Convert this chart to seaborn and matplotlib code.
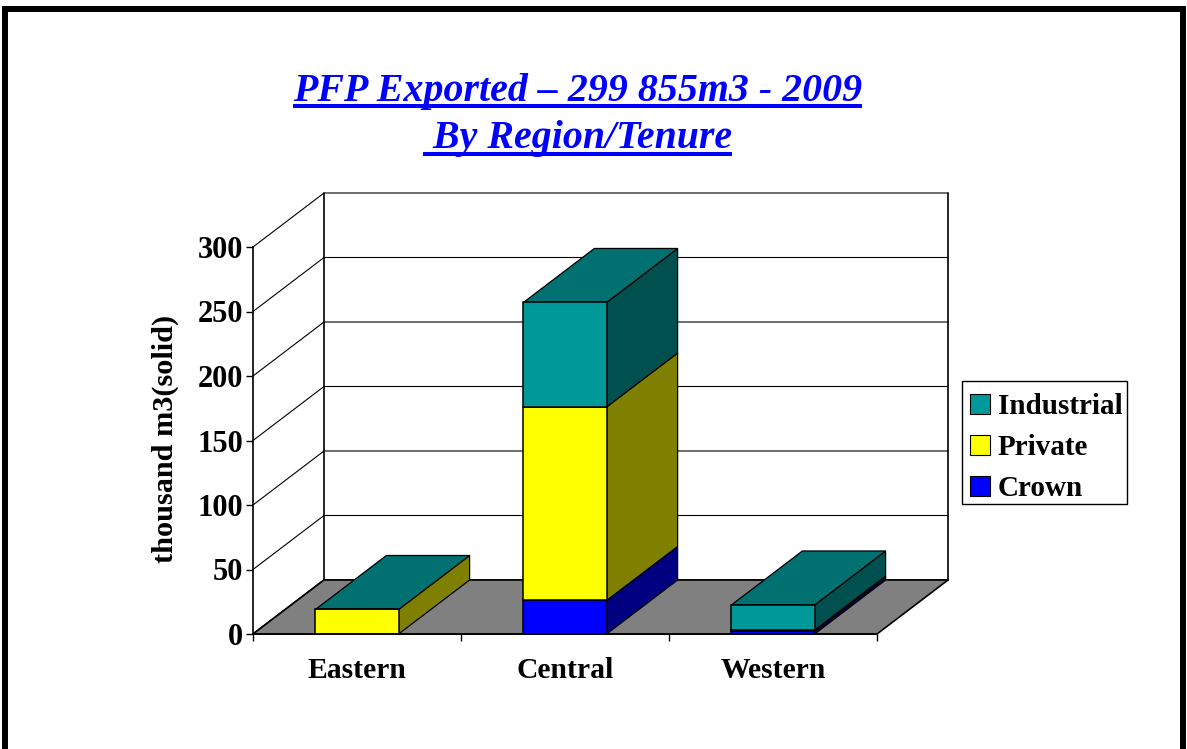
import matplotlib
matplotlib.use("Agg")
import matplotlib.pyplot as plt
import numpy as np
import seaborn as sns
from matplotlib.lines import Line2D
from matplotlib.patches import Patch, Polygon, Rectangle

regions = ["Eastern", "Central", "Western"]
crown = [0, 26, 2]
private = [19, 150, 1]
industrial = [0, 81, 19.5]
series_names = ["Crown", "Private", "Industrial"]
front_colors = ["#0000ff", "#ffff00", "#009999"]
side_colors = ["#000080", "#808000", "#005050"]
top_color = "#007070"
y_ticks = [0, 50, 100, 150, 200, 250, 300]
title_lines = ["PFP Exported \u2013 299 855m3 - 2009", " By Region/Tenure"]

W, H = 1187, 749
sns.set_theme(style="white")
plt.rcParams["font.family"] = ["Liberation Serif", "DejaVu Serif"]
fig = plt.figure(figsize=(W / 100, H / 100), dpi=100, facecolor="white")
ax = fig.add_axes([253 / W, 1 - 634 / H, 624 / W, 387 / H])
ax.patch.set_alpha(0)

# Stacked front faces, through seaborn
bottoms = np.zeros(3)
stack = [crown, private, industrial]
layers = []
for vals, fc in zip(stack, front_colors):
    sns.barplot(x=regions, y=vals, bottom=bottoms, color=fc, saturation=1,
                width=0.4, edgecolor="black", linewidth=1.1, ax=ax, zorder=5)
    layers.append((np.array(bottoms), np.array(vals, dtype=float)))
    bottoms = bottoms + np.array(vals, dtype=float)

ax.set_xlim(-0.5, 2.5)
ax.set_ylim(0, 300)
DX = 71 / 208  # depth offset in category units
DY = 54 / 1.29  # depth offset in value units
x0, x1 = ax.get_xlim()
y1 = ax.get_ylim()[1]

# Floor and back wall
ax.add_patch(Polygon([(x0, 0), (x1, 0), (x1 + DX, DY), (x0 + DX, DY)], closed=True,
                     fc="#808080", ec="black", lw=1.2, clip_on=False, zorder=1))
for t in y_ticks:
    ax.plot([x0, x0 + DX, x1 + DX], [t, t + DY, t + DY], color="black",
            lw=0.8 if t else 1.2, clip_on=False, zorder=0.5)
for xv in (x0 + DX, x1 + DX):
    ax.plot([xv, xv], [DY, y1 + DY], color="black", lw=1.2, clip_on=False, zorder=0.6)

# Depth faces of each bar
halfw = 0.2
for i in range(3):
    cx0, cx1 = i - halfw, i + halfw
    for (bot, vals), sc in zip(layers, side_colors):
        b, h = bot[i], vals[i]
        if h > 0:
            ax.add_patch(Polygon([(cx1, b), (cx1 + DX, b + DY), (cx1 + DX, b + h + DY), (cx1, b + h)],
                                 closed=True, fc=sc, ec="black", lw=0.9, clip_on=False, zorder=4))
    top = bottoms[i]
    ax.add_patch(Polygon([(cx0, top), (cx1, top), (cx1 + DX, top + DY), (cx0 + DX, top + DY)],
                         closed=True, fc=top_color, ec="black", lw=0.9, clip_on=False, zorder=4))

# Axes furniture
for s in ("top", "right"):
    ax.spines[s].set_visible(False)
for s in ("left", "bottom"):
    ax.spines[s].set_color("black")
    ax.spines[s].set_linewidth(1.2)
    ax.spines[s].set_zorder(6)
ax.set_yticks(y_ticks)
ax.set_xticks([0, 1, 2], regions)
ax.set_xticks([-0.5, 0.5, 1.5, 2.5], minor=True)
ax.tick_params(axis="x", which="major", length=0, pad=16.5, labelsize=21.3)
ax.tick_params(axis="x", which="minor", length=5, width=1, color="black", bottom=True)
ax.tick_params(axis="y", length=5, width=1, color="black", pad=2, labelsize=22, left=True)
for lb in ax.get_xticklabels() + ax.get_yticklabels():
    lb.set_fontweight("bold")
    lb.set_color("black")
ax.set_xlabel("")
ax.set_ylabel("thousand m3(solid)", fontsize=21.8, fontweight="bold", color="black")
ax.yaxis.set_label_coords((179 - 253) / 624, (634 - 439) / 387)

# Legend: frame drawn apart so that the entries sit as in the reference
fig.add_artist(Rectangle((962 / W, 1 - 504 / H), 165 / W, 123 / H, transform=fig.transFigure,
                         fc="white", ec="black", lw=1.0))
handles = [Patch(fc=front_colors[i], ec="black", lw=0.8, label=series_names[i]) for i in (2, 1, 0)]
leg = fig.legend(handles=handles, loc="upper left", bbox_to_anchor=(961 / W, 1 - 384 / H),
                 borderaxespad=0, frameon=False,
                 prop={"family": "Liberation Serif", "weight": "bold", "size": 21},
                 handlelength=0.66, handleheight=0.66, handletextpad=0.28,
                 labelspacing=0.48, borderpad=0.32)
for t in leg.get_texts():
    t.set_color("black")

# Title with underlines
fig.canvas.draw()
renderer = fig.canvas.get_renderer()
for line, yb, yu in zip(title_lines, (101, 148), (106, 154)):
    t = fig.text(577.5 / W, 1 - yb / H, line, ha="center", va="baseline", color="#0000ff",
                 fontsize=28.76, fontweight="bold", fontstyle="italic")
    bb = t.get_window_extent(renderer)
    fig.add_artist(Line2D([bb.x0 / W, bb.x1 / W], [1 - yu / H, 1 - yu / H], color="#0000ff",
                          lw=2.9, solid_capstyle="butt"))

# Picture frame
fig.add_artist(Rectangle((5 / W, -5 / H), 1177.5 / W, (H + 5 - 9) / H, transform=fig.transFigure,
                         fill=False, ec="black", lw=4.3))

fig.savefig("out.png", dpi=100, facecolor="white")
